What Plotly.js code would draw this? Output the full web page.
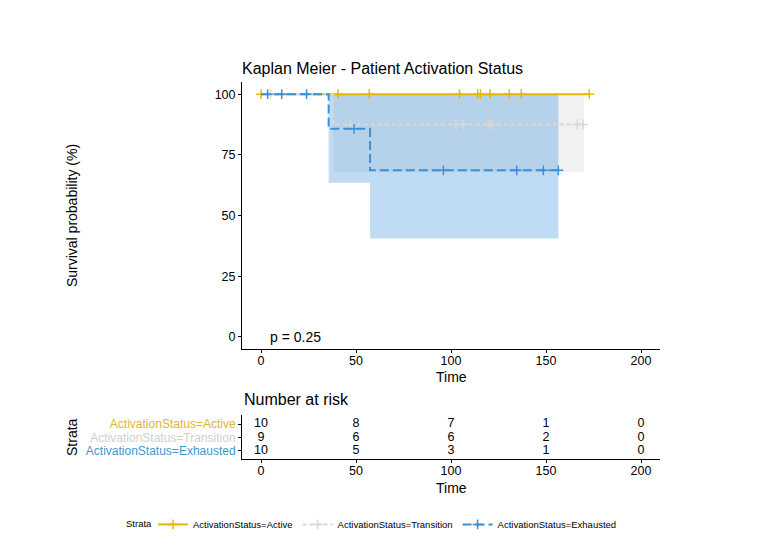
<!DOCTYPE html>
<html><head><meta charset="utf-8">
<script src="https://cdn.plot.ly/plotly-3.0.1.min.js"></script>
<style>html,body{margin:0;padding:0;background:#fff}</style>
</head><body><div id="chart" style="width:784px;height:548px"></div>
<script>
// ---- data ----
const strata = ["ActivationStatus=Active", "ActivationStatus=Transition", "ActivationStatus=Exhausted"];
const colors = ["#E7B800", "#D8D8D8", "#3A8FD6"];
const labelColors = ["#DDB535", "#D0D0D0", "#3A9AD2"];

const activeTime = [0, 172.8];
const activeSurv = [100, 100];
const activeCensor = [0, 40.5, 57, 104.5, 114, 115.5, 120.5, 130.7, 137, 172.8];

const transitionTime = [0, 38, 170];
const transitionSurv = [100, 87.5, 87.5];
const transitionCensor = [5, 47, 102.5, 106.5, 119.5, 121, 166.5, 169.5];
const transitionBandTime = [38, 170];
const transitionLower = [67.8, 67.8];
const transitionUpper = [100, 100];

const exhaustedTime = [0, 35.6, 57.4, 156.5];
const exhaustedSurv = [100, 85.7, 68.6, 68.6];
const exhaustedCensor = [3.5, 10.9, 24, 49, 96, 134.6, 148.6, 156.5];
const exhaustedBandTime = [35.6, 57.4, 156.5];
const exhaustedLower = [63.5, 40.5, 40.5];
const exhaustedUpper = [100, 100, 100];

const riskTimes = [0, 50, 100, 150, 200];
const riskActive = [10, 8, 7, 1, 0];
const riskTransition = [9, 6, 6, 2, 0];
const riskExhausted = [10, 5, 3, 1, 0];

const xTicks = [0, 50, 100, 150, 200];
const yTicks = [0, 25, 50, 75, 100];
const pValueText = "p = 0.25";

// ---- helpers ----
function survAt(times, surv, t) {
  let v = surv[0];
  for (let i = 0; i < times.length; i++) if (times[i] <= t) v = surv[i];
  return v;
}
function bandTraces(bt, lo, up, fill) {
  return [
    {x: bt, y: lo, mode: 'lines', line: {shape: 'hv', width: 0, color: 'rgba(0,0,0,0)'}, hoverinfo: 'skip', showlegend: false, xaxis: 'x', yaxis: 'y'},
    {x: bt, y: up, mode: 'lines', line: {shape: 'hv', width: 0, color: 'rgba(0,0,0,0)'}, fill: 'tonexty', fillcolor: fill, hoverinfo: 'skip', showlegend: false, xaxis: 'x', yaxis: 'y'}
  ];
}
const mk = (color) => ({symbol: 'cross-thin', size: 7, color: color, line: {color: color, width: 1.5}});
function curveTraces(t, s, c, color, dash) {
  return [
    {x: t, y: s, mode: 'lines', line: {shape: 'hv', color: color, width: 2, dash: dash}, showlegend: false, xaxis: 'x', yaxis: 'y'},
    {x: c, y: c.map(v => survAt(t, s, v)), mode: 'markers', marker: mk(color), showlegend: false, xaxis: 'x', yaxis: 'y'}
  ];
}
function legendTrace(name, color, dash) {
  return {x: [null], y: [null], mode: 'lines+markers', name: name, line: {color: color, width: 2, dash: dash},
    marker: mk(color), xaxis: 'x', yaxis: 'y'};
}

const traces = [];
traces.push(...bandTraces(transitionBandTime, transitionLower, transitionUpper, 'rgba(215,215,215,0.35)'));
traces.push(...bandTraces(exhaustedBandTime, exhaustedLower, exhaustedUpper, 'rgba(46,140,220,0.3)'));
traces.push(...curveTraces(activeTime, activeSurv, activeCensor, colors[0], 'solid'));
traces.push(...curveTraces(transitionTime, transitionSurv, transitionCensor, colors[1], '4px,3px'));
traces.push(...curveTraces(exhaustedTime, exhaustedSurv, exhaustedCensor, colors[2], '9px,4px'));
traces.push(legendTrace(strata[0], colors[0], 'solid'));
traces.push(legendTrace(strata[1], colors[1], '4px,3px'));
traces.push(legendTrace(strata[2], colors[2], '9px,4px'));

const riskRows = [riskActive, riskTransition, riskExhausted];
const rowY = [3, 2, 1];
riskRows.forEach((r, i) => {
  traces.push({x: riskTimes, y: riskTimes.map(() => rowY[i]), text: r.map(String), mode: 'text',
    textfont: {family: 'Liberation Sans, Arial, sans-serif', size: 12.5, color: '#000'},
    hoverinfo: 'skip', showlegend: false, xaxis: 'x2', yaxis: 'y2'});
});

const axisBase = {showline: true, linecolor: '#000', linewidth: 1, ticks: 'outside', ticklen: 3, tickcolor: '#000',
  showgrid: false, zeroline: false, tickfont: {size: 12.5, color: '#000'}};

const font = 'Liberation Sans, Arial, sans-serif';
const layout = {
  width: 784, height: 548,
  margin: {l: 242, r: 124, t: 82, b: 89, autoexpand: false},
  paper_bgcolor: '#fff', plot_bgcolor: '#fff',
  font: {family: font, color: '#000'},
  title: {text: 'Kaplan Meier - Patient Activation Status', font: {size: 16, color: '#000'},
    xref: 'paper', x: 0, xanchor: 'left', yref: 'container', y: 1 - 68 / 548, yanchor: 'middle'},
  xaxis: Object.assign({}, axisBase, {domain: [0, 1], range: [-10, 210], tickvals: xTicks, anchor: 'y', ticklabelstandoff: -3}),
  yaxis: Object.assign({}, axisBase, {domain: [0.2918, 1], range: [-5, 105], tickvals: yTicks, anchor: 'x'}),
  xaxis2: Object.assign({}, axisBase, {domain: [0, 1], range: [-10, 210], tickvals: xTicks, anchor: 'y2', ticklabelstandoff: -3}),
  yaxis2: Object.assign({}, axisBase, {domain: [0, 0.1167], range: [0.4, 3.67], tickvals: rowY, anchor: 'x2',
    ticktext: strata.map((s, i) => '<span style="color:' + labelColors[i] + '">' + s + '</span>'),
    tickfont: {size: 12, color: '#000'}}),
  showlegend: true,
  legend: {orientation: 'h', traceorder: 'normal', x: (153 - 242) / 418, xanchor: 'left', y: -0.135, yanchor: 'top',
    font: {size: 9.5, color: '#000'}, itemwidth: 30, bgcolor: 'rgba(0,0,0,0)'},
  annotations: [
    {text: pValueText, xref: 'x', yref: 'y', x: 3.5, y: 0, xanchor: 'left', yanchor: 'middle', showarrow: false, font: {size: 14}},
    {text: 'Survival probability (%)', xref: 'paper', yref: 'paper', x: -0.4067, xanchor: 'center', y: 0.647, yanchor: 'middle', textangle: -90, showarrow: false, font: {size: 14}},
    {text: 'Time', xref: 'paper', yref: 'paper', x: 0.5, xanchor: 'center', y: 0.2175, yanchor: 'middle', showarrow: false, font: {size: 14}},
    {text: 'Number at risk', xref: 'paper', yref: 'paper', x: 0, xanchor: 'left', y: 0.1565, yanchor: 'middle', showarrow: false, font: {size: 16}},
    {text: 'Strata', xref: 'paper', yref: 'paper', x: -0.4067, xanchor: 'center', y: 0.0584, yanchor: 'middle', textangle: -90, showarrow: false, font: {size: 14}},
    {text: 'Time', xref: 'paper', yref: 'paper', x: 0.5, xanchor: 'center', y: -0.077, yanchor: 'middle', showarrow: false, font: {size: 14}},
    {text: 'Strata', xref: 'paper', yref: 'paper', x: (124 - 242) / 418, xanchor: 'left', y: -(523 - 459) / 377, yanchor: 'middle', showarrow: false, font: {size: 9.5}}
  ]
};
Plotly.newPlot('chart', traces, layout, {displayModeBar: false, staticPlot: true});
</script></body></html>
